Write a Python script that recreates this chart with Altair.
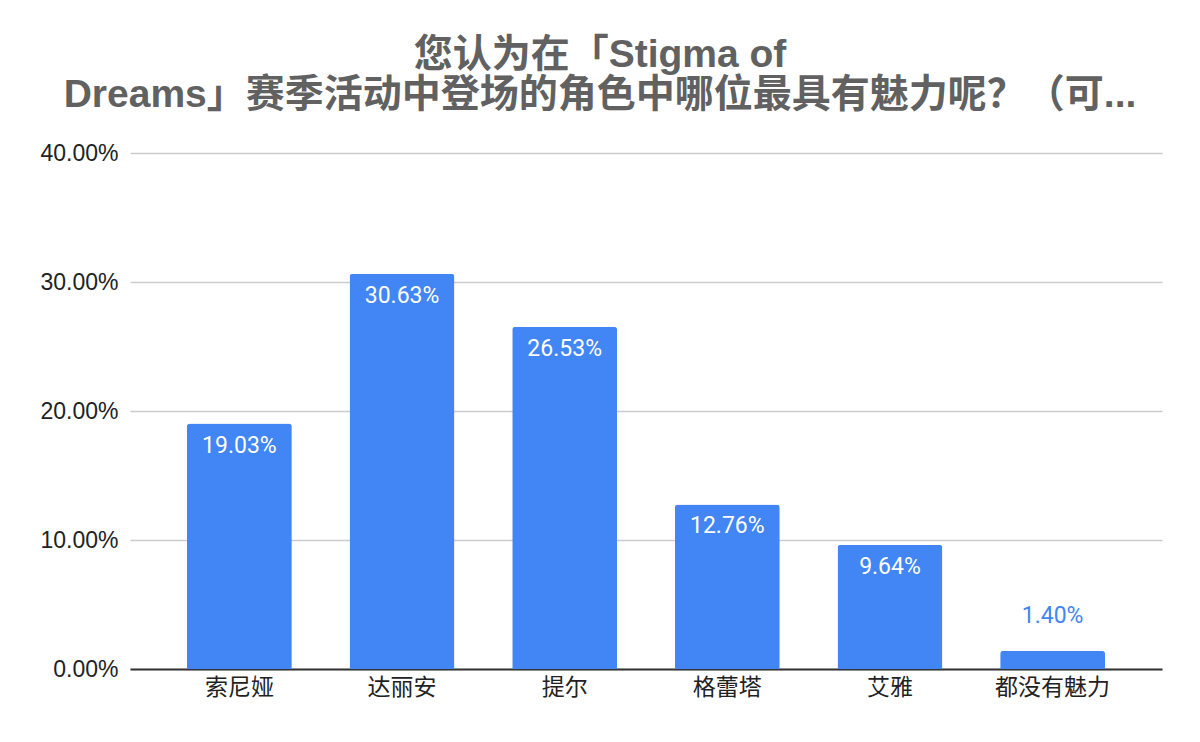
import altair as alt
import pandas as pd

categories = ["索尼娅", "达丽安", "提尔", "格蕾塔", "艾雅", "都没有魅力"]
shares = [0.1903, 0.3063, 0.2653, 0.1276, 0.0964, 0.0140]
y_ticks = [0.0, 0.1, 0.2, 0.3, 0.4]
title_lines = ["您认为在「Stigma of", "Dreams」赛季活动中登场的角色中哪位最具有魅力呢？（可..."]

df = pd.DataFrame({"cat": categories, "val": shares})

BLUE = "#4285f4"

x_enc = alt.X(
    "cat:N",
    sort=categories,
    title=None,
    scale=alt.Scale(paddingInner=0.355, paddingOuter=0.35),
    axis=alt.Axis(
        labelAngle=0,
        labelFont="Noto Sans CJK SC",
        labelFontSize=23,
        labelColor="#222222",
        labelPadding=7,
        domainColor="#333333",
        domainWidth=2,
        ticks=False,
        grid=False,
    ),
)
y_enc = alt.Y(
    "val:Q",
    title=None,
    scale=alt.Scale(domain=[0, 0.4], nice=False),
    axis=alt.Axis(
        values=y_ticks,
        format=".2%",
        labelFont="Liberation Sans",
        labelFontSize=23,
        labelColor="#222222",
        labelPadding=12,
        domain=False,
        ticks=False,
        gridColor="#cccccc",
        gridWidth=1.5,
    ),
)

bars = alt.Chart(df).mark_bar(
    color=BLUE, cornerRadiusTopLeft=3, cornerRadiusTopRight=3
).encode(x=x_enc, y=y_enc)

inside = alt.Chart(df).transform_filter("datum.val >= 0.05").mark_text(
    font="Roboto", fontSize=23, color="white", baseline="alphabetic", dy=29
).encode(x=alt.X("cat:N", sort=categories), y="val:Q", text=alt.Text("val:Q", format=".2%"))

above = alt.Chart(df).transform_filter("datum.val < 0.05").mark_text(
    font="Roboto", fontSize=23, color=BLUE, baseline="alphabetic", dy=-28
).encode(x=alt.X("cat:N", sort=categories), y="val:Q", text=alt.Text("val:Q", format=".2%"))

chart = alt.layer(bars, inside, above).properties(
    width=1032,
    height=516,
    background="white",
    title=alt.TitleParams(
        text=title_lines,
        font="Liberation Sans, Noto Sans CJK SC",
        fontSize=39,
        fontWeight="bold",
        color="#616161",
        anchor="middle",
        baseline="alphabetic",
        lineHeight=40,
        offset=-4,
        dx=-46,
    ),
    padding={"left": 122, "top": 145, "right": 30, "bottom": 40},
    autosize=alt.AutoSizeParams(type="none"),
).configure_view(stroke=None)

chart.save("out.html", embed_options={"renderer": "svg", "actions": False})
